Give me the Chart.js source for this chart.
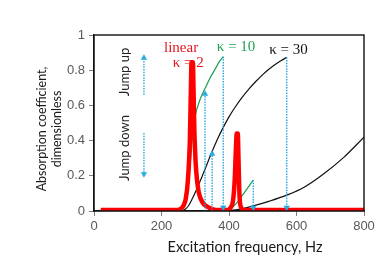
<!DOCTYPE html>
<html>
<head>
<meta charset="utf-8">
<script src="https://cdn.jsdelivr.net/npm/chart.js@4.4.1/dist/chart.umd.min.js"></script>
<style>
  html, body { margin: 0; padding: 0; background: #fff; }
  #wrap { width: 387px; height: 261px; position: relative; }
</style>
</head>
<body>
<div id="wrap"><canvas id="chart"></canvas></div>
<script>
// Linear / kappa = 2 response (red, thick)
const linearHz  = [20, 240, 255, 265, 272, 278, 284, 287, 289, 293, 295, 297.5, 301, 305, 310, 316, 325, 340, 360, 395, 405, 412, 417, 420, 423, 426, 428, 430, 432, 436, 445, 800];
const linearAbs = [0.005, 0.005, 0.01, 0.03, 0.07, 0.17, 0.4, 0.68, 0.845, 0.845, 0.68, 0.45, 0.28, 0.18, 0.11, 0.07, 0.04, 0.02, 0.006, 0.005, 0.02, 0.06, 0.18, 0.33, 0.44, 0.44, 0.31, 0.15, 0.06, 0.02, 0.005, 0.005];

// kappa = 10 (green), upper and lower branches
const k10UpperHz  = [258, 268, 276, 284, 292, 300, 310, 320, 330, 345, 360, 372, 383];
const k10UpperAbs = [0, 0.03, 0.1, 0.25, 0.42, 0.54, 0.61, 0.66, 0.7, 0.76, 0.81, 0.85, 0.877];
const k10LowerHz  = [397, 410, 425, 440, 455, 472];
const k10LowerAbs = [0, 0.02, 0.05, 0.09, 0.13, 0.176];

// kappa = 30 (black), upper and lower branches
const k30UpperHz  = [262, 270, 280, 290, 300, 310, 320, 330, 340, 350, 365, 383, 400, 420, 440, 460, 480, 500, 520, 540, 555, 571];
const k30UpperAbs = [0, 0.01, 0.03, 0.065, 0.105, 0.15, 0.195, 0.243, 0.291, 0.338, 0.405, 0.475, 0.535, 0.595, 0.648, 0.695, 0.737, 0.775, 0.808, 0.836, 0.855, 0.873];
const k30LowerHz  = [393, 420, 450, 480, 520, 571, 620, 680, 740, 800];
const k30LowerAbs = [0, 0.006, 0.018, 0.033, 0.056, 0.09, 0.132, 0.21, 0.305, 0.42];

// jump arrows: frequency, start and end (arrow head at end)
const jumpUpHz    = [329, 350];
const jumpUpFrom  = [0, 0];
const jumpUpTo    = [0.665, 0.325];
const jumpDownHz   = [383, 472, 571];
const jumpDownFrom = [0.877, 0.176, 0.873];
const jumpDownTo   = [0.02, 0.02, 0.02];

// key arrows beside the "Jump up" / "Jump down" captions
const keyHz        = [148, 148];
const keyFrom      = [0.66, 0.443];
const keyTo        = [0.87, 0.21];

const xTicks = [0, 200, 400, 600, 800];
const yTicks = [0, 0.2, 0.4, 0.6, 0.8, 1];

const ARROW = '#27a9e1';

function pts(xs, ys) {
  return xs.map((v, i) => ({ x: v, y: ys[i] }));
}

function curve(xs, ys, color, width, order) {
  return {
    data: pts(xs, ys),
    borderColor: color,
    borderWidth: width,
    pointRadius: 0,
    cubicInterpolationMode: 'monotone',
    borderJoinStyle: 'bevel',
    order: order
  };
}

function arrow(hz, from, to, up) {
  return {
    data: [{ x: hz, y: from }, { x: hz, y: to }],
    borderColor: ARROW,
    borderWidth: 1.4,
    borderDash: [1.5, 1.2],
    pointStyle: 'triangle',
    pointRadius: [0, 3.2],
    pointRotation: up ? 0 : 180,
    pointBackgroundColor: ARROW,
    pointBorderColor: ARROW,
    pointBorderWidth: 0.5,
    order: 0
  };
}

const datasets = [
  curve(k30UpperHz, k30UpperAbs, '#111111', 1.2, 3),
  curve(k30LowerHz, k30LowerAbs, '#111111', 1.2, 3),
  curve(k10UpperHz, k10UpperAbs, '#23a055', 1.3, 2),
  curve(k10LowerHz, k10LowerAbs, '#23a055', 1.3, 2),
  curve(linearHz, linearAbs, '#ff0000', 4.5, 1)
];
jumpUpHz.forEach((h, i) => datasets.push(arrow(h, jumpUpFrom[i], jumpUpTo[i], true)));
jumpDownHz.forEach((h, i) => datasets.push(arrow(h, jumpDownFrom[i], jumpDownTo[i], false)));
datasets.push(arrow(keyHz[0], keyFrom[0], keyTo[0], true));
datasets.push(arrow(keyHz[1], keyFrom[1], keyTo[1], false));

// text placed in data coordinates
const curveLabels = [
  { text: 'linear', hz: 258, abs: 0.926, color: '#e3171f' },
  { text: '\u03ba = 2', hz: 279, abs: 0.84, color: '#e3171f' },
  { text: '\u03ba = 10', hz: 421, abs: 0.93, color: '#23a055' },
  { text: '\u03ba = 30', hz: 576, abs: 0.915, color: '#111111' }
];
const sideLabels = [
  { text: 'Jump up', hz: 92, abs: 0.79 },
  { text: 'Jump down', hz: 92, abs: 0.358 }
];

const figureText = {
  id: 'figureText',
  afterDraw(chart) {
    const { ctx, chartArea: a, scales: { x, y } } = chart;
    ctx.save();

    // plot frame
    ctx.strokeStyle = '#111';
    ctx.lineWidth = 1.4;
    ctx.strokeRect(a.left, a.top, a.right - a.left, a.bottom - a.top);

    ctx.textAlign = 'center';
    ctx.textBaseline = 'middle';

    ctx.font = '15px "Liberation Serif", serif';
    curveLabels.forEach(l => {
      ctx.fillStyle = l.color;
      ctx.fillText(l.text, x.getPixelForValue(l.hz), y.getPixelForValue(l.abs));
    });

    ctx.font = '13px Lato, sans-serif';
    ctx.fillStyle = '#222';
    sideLabels.forEach(l => {
      ctx.save();
      ctx.translate(x.getPixelForValue(l.hz), y.getPixelForValue(l.abs));
      ctx.rotate(-Math.PI / 2);
      ctx.fillText(l.text, 0, 0);
      ctx.restore();
    });

    // axis titles
    ctx.fillStyle = '#1a1a1a';
    ctx.font = '14.5px Lato, sans-serif';
    ctx.fillText('Excitation frequency, Hz', 245, 247);

    ctx.font = '12.5px Lato, sans-serif';
    ctx.save();
    ctx.translate(42, 129);
    ctx.rotate(-Math.PI / 2);
    ctx.fillText('Absorption coefficient,', 0, 0);
    ctx.restore();
    ctx.save();
    ctx.translate(57, 129);
    ctx.rotate(-Math.PI / 2);
    ctx.fillText('dimensionless', 0, 0);
    ctx.restore();

    ctx.restore();
  }
};

const tickFont = { family: '"Liberation Sans", Arial, sans-serif', size: 13 };

new Chart(document.getElementById('chart'), {
  type: 'line',
  data: { datasets },
  options: {
    responsive: true,
    maintainAspectRatio: false,
    animation: false,
    layout: { padding: { top: 35, right: 23, left: 0, bottom: 0 } },
    plugins: { legend: { display: false }, tooltip: { enabled: false } },
    scales: {
      x: {
        type: 'linear',
        min: 0,
        max: 800,
        afterBuildTicks: s => { s.ticks = xTicks.map(v => ({ value: v })); },
        afterFit: s => { s.height = 50; },
        ticks: { font: tickFont, color: '#595959', padding: 3, maxRotation: 0 },
        grid: { drawOnChartArea: false, tickLength: 5, color: '#7f7f7f' },
        border: { color: '#111', width: 1.2 }
      },
      y: {
        min: 0,
        max: 1,
        afterBuildTicks: s => { s.ticks = yTicks.map(v => ({ value: v })); },
        afterFit: s => { s.width = 94; },
        ticks: {
          font: tickFont,
          color: '#595959',
          padding: 4,
          callback: v => String(Number(v.toFixed(1)))
        },
        grid: { drawOnChartArea: false, tickLength: 5, color: '#7f7f7f' },
        border: { color: '#111', width: 1.2 }
      }
    }
  },
  plugins: [figureText]
});
</script>
</body>
</html>
